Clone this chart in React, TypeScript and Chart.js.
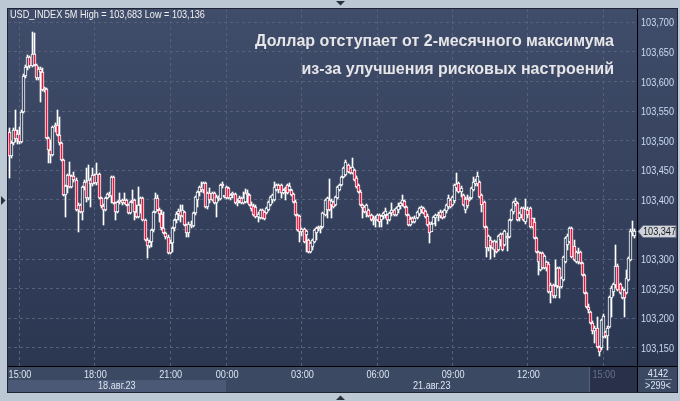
import React, { useEffect, useRef } from "react";
import { Chart, registerables } from "chart.js";

Chart.register(...registerables);

// ---- data (5-minute candles, USD_INDEX) ----
const opens = [
  103.515,103.474,103.496,103.518,103.503,103.511,103.498,103.548,103.609,103.624,
  103.641,103.626,103.646,103.628,103.606,103.621,103.616,103.586,103.587,103.505,
  103.484,103.476,103.523,103.527,103.510,103.496,103.467,103.408,103.424,103.442,
  103.422,103.440,103.434,103.383,103.391,103.380,103.422,103.430,103.403,103.434,
  103.427,103.442,103.429,103.444,103.403,103.390,103.383,103.403,103.410,103.407,
  103.439,103.395,103.380,103.397,103.400,103.395,103.400,103.391,103.378,103.397,
  103.400,103.380,103.371,103.391,103.403,103.366,103.332,103.322,103.329,103.349,
  103.380,103.403,103.383,103.376,103.353,103.344,103.337,103.310,103.327,103.353,
  103.366,103.376,103.381,103.373,103.380,103.358,103.344,103.359,103.356,103.378,
  103.400,103.413,103.422,103.417,103.429,103.388,103.412,103.400,103.412,103.395,
  103.405,103.402,103.425,103.405,103.422,103.420,103.403,103.408,103.410,103.395,
  103.398,103.403,103.395,103.397,103.412,103.408,103.391,103.390,103.388,103.371,
  103.370,103.383,103.380,103.378,103.383,103.391,103.400,103.400,103.417,103.425,
  103.425,103.412,103.417,103.425,103.417,103.417,103.410,103.397,103.375,103.373,
  103.346,103.351,103.341,103.332,103.312,103.321,103.329,103.344,103.353,103.351,
  103.354,103.375,103.383,103.400,103.391,103.397,103.391,103.403,103.417,103.425,
  103.439,103.442,103.459,103.454,103.446,103.451,103.437,103.425,103.413,103.391,
  103.388,103.380,103.383,103.375,103.366,103.370,103.366,103.375,103.366,103.373,
  103.375,103.375,103.366,103.378,103.383,103.375,103.383,103.390,103.393,103.398,
  103.388,103.375,103.358,103.370,103.363,103.370,103.376,103.383,103.386,103.381,
  103.373,103.359,103.346,103.359,103.370,103.375,103.373,103.380,103.371,103.381,
  103.388,103.400,103.391,103.398,103.420,103.429,103.413,103.408,103.383,103.402,
  103.400,103.403,103.417,103.427,103.427,103.430,103.408,103.397,103.354,103.319,
  103.332,103.329,103.315,103.329,103.315,103.332,103.343,103.324,103.339,103.337,
  103.366,103.380,103.393,103.395,103.370,103.375,103.386,103.363,103.383,103.386,
  103.370,103.363,103.336,103.312,103.282,103.310,103.285,103.295,103.292,103.245,
  103.256,103.238,103.255,103.285,103.253,103.265,103.295,103.324,103.329,103.353,
  103.322,103.295,103.295,103.312,103.294,103.273,103.243,103.219,103.211,103.192,
  103.179,103.184,103.152,103.150,103.168,103.177,103.170,103.185,103.234,103.245,
  103.256,103.288,103.258,103.234,103.248,103.243,103.265,103.299,103.344,103.339,
];

const highs = [
  103.522,103.500,103.522,103.552,103.518,103.523,103.552,103.613,103.628,103.645,
  103.643,103.683,103.682,103.630,103.624,103.624,103.623,103.591,103.589,103.506,
  103.501,103.525,103.530,103.552,103.540,103.498,103.469,103.425,103.444,103.464,
  103.442,103.447,103.437,103.395,103.393,103.424,103.434,103.454,103.459,103.437,
  103.454,103.444,103.462,103.446,103.405,103.393,103.405,103.412,103.413,103.440,
  103.440,103.397,103.398,103.412,103.402,103.412,103.402,103.393,103.398,103.417,
  103.402,103.391,103.422,103.405,103.405,103.368,103.336,103.332,103.351,103.381,
  103.412,103.408,103.386,103.383,103.380,103.346,103.341,103.332,103.354,103.368,
  103.380,103.385,103.391,103.391,103.381,103.359,103.363,103.364,103.380,103.407,
  103.415,103.424,103.430,103.430,103.430,103.413,103.420,103.413,103.413,103.408,
  103.407,103.427,103.430,103.407,103.424,103.422,103.410,103.413,103.412,103.402,
  103.407,103.405,103.413,103.418,103.417,103.410,103.397,103.393,103.391,103.380,
  103.385,103.385,103.381,103.388,103.398,103.407,103.410,103.430,103.427,103.427,
  103.427,103.418,103.422,103.427,103.429,103.418,103.412,103.400,103.376,103.375,
  103.353,103.353,103.349,103.334,103.329,103.334,103.351,103.354,103.356,103.356,
  103.380,103.402,103.405,103.435,103.402,103.398,103.407,103.424,103.427,103.440,
  103.456,103.467,103.461,103.456,103.471,103.452,103.440,103.427,103.417,103.393,
  103.390,103.393,103.385,103.376,103.373,103.373,103.376,103.376,103.375,103.380,
  103.386,103.376,103.380,103.395,103.385,103.388,103.395,103.397,103.408,103.400,
  103.390,103.376,103.371,103.371,103.373,103.381,103.388,103.390,103.388,103.383,
  103.376,103.363,103.363,103.373,103.376,103.380,103.383,103.381,103.385,103.393,
  103.408,103.402,103.407,103.427,103.446,103.430,103.424,103.410,103.405,103.408,
  103.405,103.422,103.439,103.435,103.447,103.432,103.410,103.398,103.356,103.341,
  103.337,103.331,103.332,103.331,103.341,103.344,103.344,103.349,103.344,103.368,
  103.385,103.398,103.403,103.397,103.380,103.388,103.388,103.402,103.388,103.388,
  103.370,103.370,103.337,103.314,103.312,103.312,103.307,103.297,103.295,103.260,
  103.258,103.299,103.287,103.287,103.270,103.305,103.337,103.343,103.354,103.354,
  103.332,103.314,103.319,103.314,103.295,103.275,103.245,103.224,103.212,103.196,
  103.187,103.202,103.153,103.199,103.207,103.179,103.187,103.238,103.255,103.260,
  103.324,103.292,103.260,103.253,103.250,103.282,103.304,103.351,103.364,103.351,
];

const lows = [
  103.437,103.471,103.493,103.498,103.494,103.494,103.496,103.547,103.606,103.619,
  103.623,103.624,103.626,103.603,103.603,103.565,103.584,103.582,103.503,103.462,
  103.462,103.474,103.515,103.508,103.493,103.466,103.407,103.371,103.412,103.420,
  103.420,103.430,103.381,103.346,103.378,103.366,103.417,103.397,103.400,103.388,
  103.424,103.427,103.425,103.402,103.386,103.358,103.381,103.402,103.405,103.395,
  103.393,103.366,103.378,103.393,103.391,103.393,103.390,103.376,103.376,103.395,
  103.366,103.370,103.370,103.378,103.364,103.331,103.302,103.319,103.321,103.346,
  103.378,103.381,103.363,103.349,103.343,103.334,103.309,103.309,103.312,103.347,
  103.361,103.366,103.363,103.371,103.356,103.337,103.337,103.353,103.354,103.375,
  103.388,103.407,103.413,103.412,103.386,103.385,103.395,103.398,103.393,103.371,
  103.398,103.400,103.420,103.403,103.402,103.402,103.400,103.403,103.393,103.390,
  103.395,103.393,103.393,103.395,103.395,103.390,103.381,103.373,103.370,103.363,
  103.368,103.368,103.366,103.376,103.381,103.390,103.395,103.398,103.415,103.412,
  103.403,103.410,103.400,103.410,103.415,103.407,103.395,103.373,103.347,103.329,
  103.339,103.327,103.312,103.310,103.310,103.315,103.327,103.332,103.347,103.344,
  103.353,103.373,103.370,103.381,103.370,103.386,103.390,103.402,103.415,103.424,
  103.437,103.440,103.446,103.444,103.444,103.432,103.420,103.412,103.390,103.370,
  103.378,103.371,103.371,103.364,103.358,103.354,103.364,103.354,103.354,103.368,
  103.370,103.359,103.364,103.373,103.373,103.373,103.378,103.385,103.390,103.386,
  103.373,103.356,103.356,103.361,103.361,103.368,103.373,103.378,103.376,103.370,
  103.356,103.327,103.347,103.359,103.356,103.364,103.370,103.368,103.370,103.378,
  103.385,103.386,103.390,103.395,103.415,103.412,103.405,103.390,103.378,103.386,
  103.398,103.402,103.415,103.424,103.424,103.403,103.380,103.353,103.304,103.314,
  103.300,103.317,103.304,103.310,103.314,103.322,103.314,103.322,103.314,103.336,
  103.364,103.376,103.390,103.364,103.364,103.370,103.364,103.359,103.370,103.353,
  103.353,103.334,103.310,103.273,103.280,103.283,103.283,103.280,103.243,103.226,
  103.234,103.234,103.251,103.234,103.251,103.263,103.294,103.315,103.327,103.302,
  103.297,103.294,103.292,103.292,103.272,103.241,103.217,103.209,103.190,103.174,
  103.158,103.150,103.136,103.147,103.167,103.167,103.147,103.184,103.202,103.238,
  103.251,103.246,103.241,103.233,103.202,103.241,103.263,103.297,103.339,103.336,
];

const closes = [
  103.474,103.496,103.518,103.503,103.511,103.498,103.548,103.609,103.624,103.641,
  103.626,103.646,103.628,103.606,103.621,103.616,103.586,103.587,103.505,103.484,
  103.476,103.523,103.527,103.510,103.496,103.467,103.408,103.424,103.442,103.422,
  103.440,103.434,103.383,103.391,103.380,103.422,103.430,103.403,103.434,103.427,
  103.442,103.429,103.444,103.403,103.390,103.383,103.403,103.410,103.407,103.439,
  103.395,103.380,103.397,103.400,103.395,103.400,103.391,103.378,103.397,103.400,
  103.380,103.371,103.391,103.403,103.366,103.332,103.322,103.329,103.349,103.380,
  103.403,103.383,103.376,103.353,103.344,103.337,103.310,103.327,103.353,103.366,
  103.376,103.381,103.373,103.383,103.358,103.344,103.359,103.356,103.378,103.405,
  103.413,103.422,103.417,103.429,103.388,103.412,103.400,103.412,103.395,103.405,
  103.402,103.425,103.424,103.405,103.403,103.403,103.408,103.410,103.395,103.398,
  103.403,103.395,103.403,103.412,103.408,103.391,103.385,103.375,103.371,103.376,
  103.383,103.370,103.368,103.386,103.397,103.405,103.408,103.422,103.425,103.417,
  103.412,103.417,103.418,103.412,103.424,103.408,103.397,103.375,103.349,103.346,
  103.351,103.329,103.347,103.312,103.327,103.332,103.349,103.353,103.351,103.353,
  103.378,103.400,103.403,103.383,103.398,103.388,103.405,103.422,103.425,103.439,
  103.454,103.464,103.447,103.446,103.456,103.434,103.422,103.413,103.391,103.386,
  103.380,103.391,103.373,103.366,103.370,103.366,103.375,103.363,103.373,103.378,
  103.381,103.366,103.378,103.383,103.375,103.386,103.390,103.395,103.400,103.388,
  103.375,103.358,103.368,103.363,103.370,103.380,103.386,103.388,103.378,103.371,
  103.358,103.344,103.359,103.371,103.375,103.373,103.380,103.370,103.383,103.391,
  103.403,103.388,103.405,103.425,103.427,103.413,103.420,103.391,103.402,103.390,
  103.403,103.420,103.430,103.432,103.440,103.405,103.391,103.354,103.319,103.339,
  103.322,103.319,103.331,103.312,103.339,103.343,103.315,103.347,103.336,103.366,
  103.383,103.397,103.398,103.366,103.378,103.386,103.366,103.385,103.375,103.354,
  103.354,103.336,103.312,103.295,103.310,103.285,103.305,103.285,103.245,103.256,
  103.238,103.255,103.285,103.253,103.268,103.304,103.336,103.339,103.353,103.304,
  103.299,103.312,103.310,103.294,103.273,103.243,103.219,103.214,103.192,103.179,
  103.184,103.152,103.143,103.197,103.204,103.170,103.184,103.236,103.251,103.258,
  103.288,103.248,103.243,103.250,103.234,103.268,103.302,103.347,103.347,103.347,
];

const timeLabels = ["15:00", "18:00", "21:00", "00:00", "03:00", "06:00", "09:00", "12:00", "15:00"];
const timeIndex = [5, 41, 77, 104, 140, 176, 212, 248, 284];
const dateLabels = ["18.авг.23", "21.авг.23"];
const dateIndex = [51.5, 202];
const dayBoundaryIndex = 103.5;
const currentZoneIndex = 277.5;
const yTicks = [103.15, 103.2, 103.25, 103.3, 103.35, 103.4, 103.45, 103.5, 103.55, 103.6, 103.65, 103.7];
const yMin = 103.1195;
const yMax = 103.7225;
const symbolName = "USD_INDEX 5M";
const titleLines = ["Доллар отступает от 2-месячного максимума", "из-за улучшения рисковых настроений"];
const totalBars = "4142";
const visibleBars = ">299<";

const SANS = "'Liberation Sans', Arial, sans-serif";
const NARROW_K = 0.83;
const RED = "#e3163d";
const BULL_FILL = "#33405b";

const fmt = (v: number) => v.toFixed(3).replace(".", ",");

// draws 11px sans text compressed horizontally (narrow face look)
function narrowText(ctx: CanvasRenderingContext2D, text: string, x: number, y: number, align: "left" | "center", color: string) {
  ctx.save();
  ctx.font = `11px ${SANS}`;
  ctx.fillStyle = color;
  ctx.textAlign = "left";
  ctx.textBaseline = "middle";
  const w = ctx.measureText(text).width * NARROW_K;
  const left = align === "left" ? x : x - w / 2;
  ctx.translate(left, y);
  ctx.scale(NARROW_K, 1);
  ctx.fillText(text, 0, 0);
  ctx.restore();
}

export default function App() {
  const ref = useRef<HTMLCanvasElement>(null);

  useEffect(() => {
    const canvas = ref.current!;
    const idx = opens.map((_, i) => i);
    const wickData = idx.map((i) => ({ x: i, y: [lows[i], highs[i]] }));
    const bodyData = idx.map((i) => ({ x: i, y: [opens[i], closes[i]] }));

    const snapPlugin = {
      id: "snap",
      afterDatasetsUpdate(chart: any) {
        chart.data.datasets.forEach((_: any, di: number) => {
          const meta = chart.getDatasetMeta(di);
          meta.data.forEach((el: any) => {
            el.x = Math.floor(el.x) + 0.5;
            el.y = Math.round(el.y);
            el.base = Math.round(el.base);
          });
        });
      },
    };

    const framePlugin = {
      id: "frame",
      beforeDraw(chart: any) {
        const { ctx, chartArea: a, scales } = chart;
        const W = chart.width;
        const H = chart.height;
        const pr = W - 3;
        const pb = H - 9;
        const xs = scales.x;
        ctx.save();
        ctx.fillStyle = "#bdc8d5";
        ctx.fillRect(0, 0, W, H);
        ctx.fillStyle = "#1e2433";
        ctx.fillRect(a.left - 1, a.top - 1, pr - a.left + 2, pb - a.top + 2);
        const g = ctx.createLinearGradient(0, a.top, 0, a.bottom);
        g.addColorStop(0, "#404d6a");
        g.addColorStop(1, "#2b3651");
        ctx.fillStyle = g;
        ctx.fillRect(a.left, a.top, pr - a.left, a.bottom - a.top);
        ctx.fillStyle = "#3c4963";
        ctx.fillRect(a.left, a.bottom, pr - a.left, pb - a.bottom);
        const dayX = Math.round(xs.getPixelForValue(dayBoundaryIndex));
        ctx.fillStyle = "#4b5976";
        ctx.fillRect(a.left, a.bottom + 14, dayX - a.left, pb - a.bottom - 14);
        const curX = Math.round(xs.getPixelForValue(currentZoneIndex));
        ctx.fillStyle = "#283149";
        ctx.fillRect(curX, a.bottom, a.right - curX, pb - a.bottom);
        ctx.fillStyle = "#56627c";
        ctx.fillRect(curX - 1, a.bottom, 1, pb - a.bottom);
        ctx.restore();
      },
      afterDraw(chart: any) {
        const { ctx, chartArea: a, scales } = chart;
        const W = chart.width;
        const H = chart.height;
        const pr = W - 3;
        const pb = H - 9;
        const xs = scales.x;
        const ys = scales.y;
        ctx.save();
        // separator lines
        ctx.fillStyle = "#000000";
        ctx.fillRect(a.left, a.bottom, pr - a.left, 1);
        ctx.fillRect(a.right, a.top, 1, pb - a.top);
        // price axis labels
        ys.ticks.forEach((t: any) => {
          narrowText(ctx, fmt(t.value), a.right + 4, Math.round(ys.getPixelForValue(t.value)) + 0.5, "left", "#cddcf1");
        });
        // time axis labels
        xs.ticks.forEach((t: any, k: number) => {
          const li = timeIndex.indexOf(t.value);
          if (li < 0) return;
          const color = k === timeLabels.length - 1 ? "#66738d" : "#dce5f1";
          narrowText(ctx, timeLabels[li], xs.getPixelForValue(t.value) + 0.5, a.bottom + 8.5, "center", color);
        });
        // date labels
        dateLabels.forEach((d, k) => {
          narrowText(ctx, d, xs.getPixelForValue(dateIndex[k]), pb - 6.5, "center", "#dce5f1");
        });
        // counters box
        const cx = (a.right + pr) / 2 + 1;
        narrowText(ctx, totalBars, cx, a.bottom + 7.5, "center", "#dce5f1");
        ctx.fillStyle = "#8a97ad";
        ctx.fillRect(a.right + 8, a.bottom + 13, pr - a.right - 13, 1);
        narrowText(ctx, visibleBars, cx, pb - 6.5, "center", "#dce5f1");
        // last price tag
        const last = closes[closes.length - 1];
        const py = Math.round(ys.getPixelForValue(last)) + 0.5;
        ctx.beginPath();
        ctx.moveTo(a.right + 1, py);
        ctx.lineTo(a.right + 6, py - 6);
        ctx.lineTo(pr - 1, py - 6);
        ctx.lineTo(pr - 1, py + 6);
        ctx.lineTo(a.right + 6, py + 6);
        ctx.closePath();
        ctx.fillStyle = "#cfd3db";
        ctx.fill();
        ctx.strokeStyle = "#6d7585";
        ctx.lineWidth = 1;
        ctx.stroke();
        narrowText(ctx, fmt(last), a.right + 6, py + 0.5, "left", "#1b1b1b");
        // frame arrows
        ctx.fillStyle = "#2a3040";
        ctx.beginPath();
        ctx.moveTo(336, 1);
        ctx.lineTo(345, 1);
        ctx.lineTo(340.5, 5.5);
        ctx.closePath();
        ctx.fill();
        ctx.beginPath();
        ctx.moveTo(336, H - 1);
        ctx.lineTo(345, H - 1);
        ctx.lineTo(340.5, H - 5.5);
        ctx.closePath();
        ctx.fill();
        ctx.beginPath();
        ctx.moveTo(1, 196);
        ctx.lineTo(1, 205);
        ctx.lineTo(5.5, 200.5);
        ctx.closePath();
        ctx.fill();
        ctx.restore();
      },
    };

    const chart = new Chart(canvas, {
      type: "bar",
      data: {
        datasets: [
          {
            label: "wick",
            data: wickData as any,
            backgroundColor: "#ffffff",
            borderWidth: 0,
            barThickness: 1,
            grouped: false,
            order: 2,
          } as any,
          {
            label: "body",
            data: bodyData as any,
            backgroundColor: (c: any) => (closes[c.dataIndex] < opens[c.dataIndex] ? RED : BULL_FILL),
            borderColor: "#ffffff",
            borderWidth: 1,
            borderSkipped: false,
            barThickness: 3,
            minBarLength: 2,
            grouped: false,
            order: 1,
          } as any,
        ],
      },
      options: {
        animation: false,
        responsive: false,
        maintainAspectRatio: false,
        events: [],
        layout: { padding: { left: 8, top: 9, right: 4, bottom: 9 } },
        plugins: { legend: { display: false }, tooltip: { enabled: false }, title: { display: false } },
        scales: {
          x: {
            type: "linear",
            min: -0.5,
            max: 300.1,
            offset: false,
            afterBuildTicks: (s: any) => {
              s.ticks = timeIndex.map((v) => ({ value: v }));
            },
            afterFit: (s: any) => {
              s.height = 26;
            },
            ticks: { display: false, autoSkip: false, maxRotation: 0 },
            grid: { color: "#55617b", lineWidth: 1, drawTicks: false, offset: false },
            border: { display: false, dash: [3, 3] },
          } as any,
          y: {
            type: "linear",
            position: "right",
            min: yMin,
            max: yMax,
            beginAtZero: false,
            afterBuildTicks: (s: any) => {
              s.ticks = yTicks.map((v) => ({ value: v }));
            },
            afterFit: (s: any) => {
              s.width = 39;
            },
            ticks: { display: false },
            grid: { color: "#55617b", lineWidth: 1, drawTicks: false },
            border: { display: false, dash: [3, 3] },
          } as any,
        },
      },
      plugins: [snapPlugin, framePlugin],
    });

    return () => chart.destroy();
  }, []);

  const hi = fmt(Math.max(...highs));
  const lo = fmt(Math.min(...lows));

  return (
    <div style={{ position: "fixed", left: 0, top: 0, width: 680, height: 401, overflow: "hidden" }}>
      <canvas ref={ref} width={680} height={401} style={{ display: "block", width: 680, height: 401 }} />
      <div
        style={{
          position: "absolute",
          left: 10,
          top: 8,
          font: `11px ${SANS}`,
          lineHeight: "12px",
          color: "#f2f2f2",
          whiteSpace: "nowrap",
          transform: `scaleX(${NARROW_K})`,
          transformOrigin: "0 0",
        }}
      >
        {`${symbolName} High = ${hi} Low = ${lo}`}
      </div>
      <div
        style={{
          position: "absolute",
          right: 66,
          top: 27,
          textAlign: "right",
          font: `bold 16px ${SANS}`,
          lineHeight: "28px",
          color: "#e6e6e8",
          whiteSpace: "nowrap",
        }}
      >
        {titleLines.map((t, i) => (
          <div key={i}>{t}</div>
        ))}
      </div>
    </div>
  );
}
